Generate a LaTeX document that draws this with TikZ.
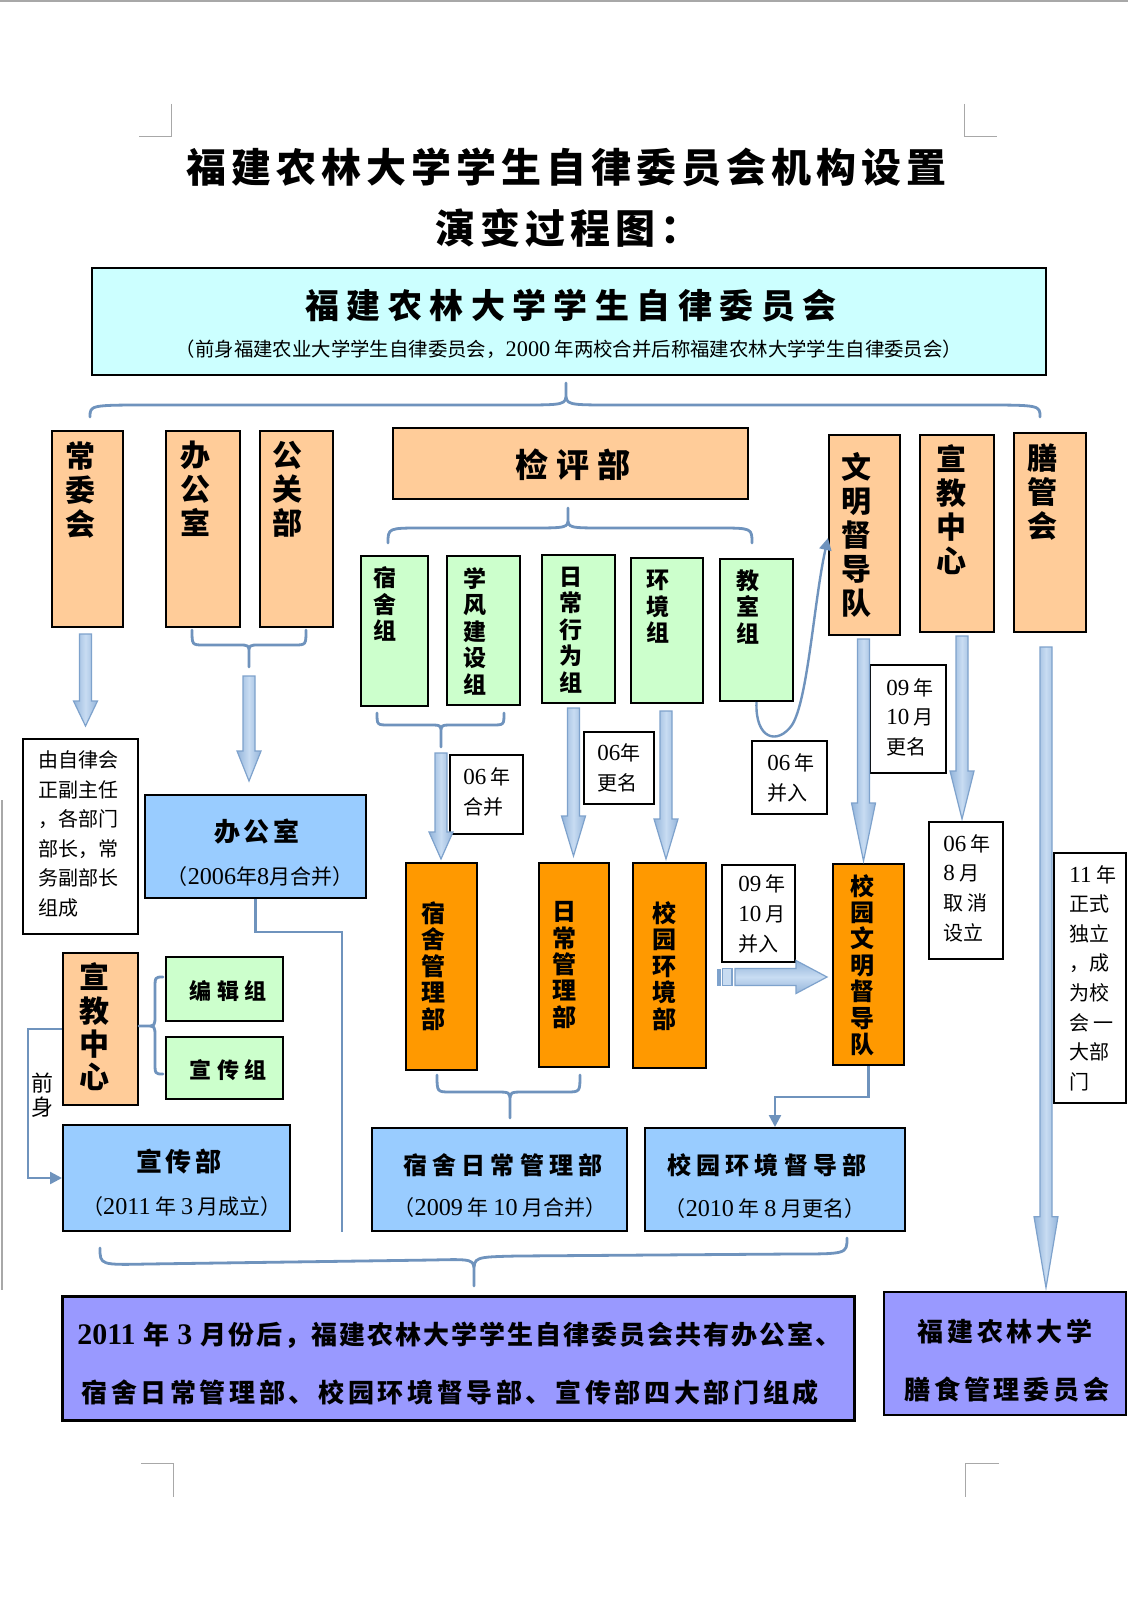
\documentclass[tikz,border=0pt]{standalone}
\usepackage{fontspec}
\newfontfamily\cjk{Noto Sans CJK SC}
\newfontfamily\lat{Liberation Serif}[Scale=1.15]
\usetikzlibrary{fit,calc,arrows.meta}
\definecolor{brc}{HTML}{6F93BD}
\definecolor{aedge}{HTML}{7EA2CC}
\definecolor{alight}{HTML}{C8DCF2}
\definecolor{adark}{HTML}{93B4DA}
\definecolor{pch}{HTML}{FFCC99}
\definecolor{org}{HTML}{FF9900}
\definecolor{grn}{HTML}{CCFFCC}
\definecolor{blu}{HTML}{99CCFF}
\definecolor{pur}{HTML}{9999FF}
\definecolor{cyn}{HTML}{CCFFFF}
\definecolor{crop}{HTML}{A8A8A8}
\newcommand\darrow[3][25]{\draw[barrow] let \p1=#2, \p2=#3 in
 (\x1-3pt,\y1) -- (\x1-3pt,\y2+#1*0.5pt) -- (\x1-6pt,\y2+#1*0.5pt) -- (\x1,\y2)
 -- (\x1+6pt,\y2+#1*0.5pt) -- (\x1+3pt,\y2+#1*0.5pt) -- (\x1+3pt,\y1) -- cycle;}
\newcommand\hbr[9]{\draw[brc] (#1,#4) .. controls (#1,#5) .. (#1+#7,#5) -- (#3-#8,#5)
 .. controls (#3,#5) .. (#3,{#5+(#9)}) -- (#3,#6)
 (#2,#4) .. controls (#2,#5) .. (#2-#7,#5) -- (#3+#8,#5) .. controls (#3,#5) .. (#3,{#5+(#9)});}
\begin{document}
\begin{tikzpicture}[x=0.5pt,y=-0.5pt,
 box/.style={draw=black, line width=1pt, inner sep=0pt},
 brc/.style={draw=brc, line width=1.4pt, line cap=round, line join=round},
 conn/.style={draw=brc, line width=1.2pt},
 barrow/.style={draw=aedge, line width=0.6pt, left color=adark, right color=adark, middle color=alight},
 colt/.style={inner sep=0pt, align=center, font=\cjk\bfseries\fontsize{15}{17}\selectfont},
 grnt/.style={inner sep=0pt, align=center, font=\cjk\bfseries\fontsize{11.5}{13.25}\selectfont},
 orgt/.style={inner sep=0pt, align=center, font=\cjk\bfseries\fontsize{12}{13.2}\selectfont},
 notet/.style={inner sep=0pt, align=left, anchor=west, font=\cjk\fontsize{10}{14.8}\selectfont},
 hdt/.style={inner sep=0pt, font=\cjk\bfseries\fontsize{13}{13}\selectfont\addfontfeature{LetterSpace=15}},
 hdtb/.style={inner sep=0pt, font=\cjk\bfseries\fontsize{12}{12}\selectfont\addfontfeature{LetterSpace=21}},
 subt/.style={inner sep=0pt, font=\cjk\fontsize{10.5}{12}\selectfont},
 gst/.style={inner sep=0pt, font=\cjk\bfseries\fontsize{11}{11}\selectfont\addfontfeature{LetterSpace=25}}]
\useasboundingbox (0,0) rectangle (1146,1600);
\fill[white] (0,0) rectangle (1146,1600);
% page marks
\draw[crop, line width=0.6pt] (0,1) -- (1128,1) (2,800) -- (2,1290);
\draw[crop, line width=0.5pt] (171,104) -- (171,137) -- (139,137)
 (964,104) -- (964,137) -- (997,137)
 (141,1463) -- (173,1463) -- (173,1497)
 (999,1463) -- (965,1463) -- (965,1497);
% titles
\node[inner sep=0pt, font=\cjk\bfseries\fontsize{20}{24}\selectfont\addfontfeature{LetterSpace=12.5}] (title1) at (566,167) {福建农林大学学生自律委员会机构设置};
\node[inner sep=0pt, anchor=west, font=\cjk\bfseries\fontsize{20}{24}\selectfont\addfontfeature{LetterSpace=12.5}] (title2) at (435,228) {演变过程图：};
% top box
\node[box, line width=1.2pt, fill=cyn, fit={(92,268) (1046,375)}] (top) {};
\node[inner sep=0pt, font=\cjk\bfseries\fontsize{17}{20}\selectfont\addfontfeature{LetterSpace=22}] (top-t1) at (571,306) {福建农林大学学生自律委员会};
\node[inner sep=0pt, font=\cjk\fontsize{9.7}{12}\selectfont] (top-t2) at (569,349) {（前身福建农业大学学生自律委员会，{\lat 2000} 年两校合并后称福建农林大学学生自律委员会）};
% braces
\hbr{90}{1040}{566}{417}{405}{383}{63}{50}{-12}
\hbr{388}{752}{568}{543}{528}{508}{35}{40}{-10}
\hbr{192}{306}{249}{630}{645}{667}{12}{11}{8}
\hbr{377}{504}{441}{713}{725}{747}{12}{12}{8}
\hbr{437}{580}{510}{1075}{1092}{1118}{14}{14}{10}
\coordinate (bt2) at (249,667);
\coordinate (bt3) at (441,747);
% first row
\node[box, fill=pch, fit={(52,431) (123,627)}] (cwh) {};
\node[box, fill=pch, fit={(166,431) (240,627)}] (bgs) {};
\node[box, fill=pch, fit={(260,431) (333,627)}] (ggb) {};
\node[box, fill=pch, fit={(393,428) (748,499)}] (jpb) {};
\node[box, fill=pch, fit={(829,435) (900,635)}] (wmd) {};
\node[box, fill=pch, fit={(920,435) (994,632)}] (xjzx) {};
\node[box, fill=pch, fit={(1014,433) (1086,632)}] (sgh) {};
\node[colt] (cwh-t) at (80,490) {常\\委\\会};
\node[colt] (bgs-t) at (195,489) {办\\公\\室};
\node[colt] (ggb-t) at (287,489) {公\\关\\部};
\node[inner sep=0pt, font=\cjk\bfseries\fontsize{16.5}{18}\selectfont\addfontfeature{LetterSpace=24}] (jpb-t) at (573,465) {检评部};
\node[colt] (wmd-t) at (856,535) {文\\明\\督\\导\\队};
\node[colt] (xjzx-t) at (951,510) {宣\\教\\中\\心};
\node[colt] (sgh-t) at (1042,492) {膳\\管\\会};
% green groups
\node[box, fill=grn, fit={(361,556) (428,706)}] (ssz) {};
\node[box, fill=grn, fit={(447,556) (520,705)}] (xfz) {};
\node[box, fill=grn, fit={(542,555) (615,703)}] (rcz) {};
\node[box, fill=grn, fit={(631,558) (703,703)}] (hjz) {};
\node[box, fill=grn, fit={(720,559) (793,701)}] (jsz) {};
\node[grnt] (ssz-t) at (385,604) {宿\\舍\\组};
\node[grnt] (xfz-t) at (475,631) {学\\风\\建\\设\\组};
\node[grnt] (rcz-t) at (571,630) {日\\常\\行\\为\\组};
\node[grnt] (hjz-t) at (658,607) {环\\境\\组};
\node[grnt] (jsz-t) at (748,607) {教\\室\\组};
% notes
\node[box, fill=white, fit={(23,739) (138,934)}] (n1) {};
\node[box, fill=white, fit={(450,755) (523,834)}] (n2) {};
\node[box, fill=white, fit={(584,732) (654,804)}] (n3) {};
\node[box, fill=white, fit={(752,741) (827,814)}] (n4) {};
\node[box, fill=white, fit={(870,665) (946,773)}] (n5) {};
\node[box, fill=white, fit={(929,822) (1003,959)}] (n6) {};
\node[box, fill=white, fit={(722,865) (795,962)}] (n7) {};
\node[box, fill=white, fit={(1054,853) (1126,1103)}] (n8) {};
\node[notet] (n1-t) at (38,834) {由自律会\\正副主任\\，各部门\\部长，常\\务副部长\\组成};
\node[notet] (n2-t) at (463,792) {{\lat 06} 年\\合并};
\node[notet] (n3-t) at (597,768) {{\lat 06}年\\更名};
\node[notet] (n4-t) at (767,778) {{\lat 06} 年\\并入};
\node[notet] (n5-t) at (886,717) {{\lat 09} 年\\{\lat 10} 月\\更名};
\node[notet] (n6-t) at (943,888) {{\lat 06} 年\\{\lat 8} 月\\取 消\\设立};
\node[notet] (n7-t) at (738,914) {{\lat 09} 年\\{\lat 10} 月\\并入};
\node[notet] (n8-t) at (1069,978) {{\lat 11} 年\\正式\\独立\\，成\\为校\\会 一\\大部\\门};
% second level
\node[box, fill=blu, fit={(145,795) (366,898)}] (bgs2) {};
\node[hdt] (bgs2-t1) at (257,832) {办公室};
\node[subt] (bgs2-t2) at (260,877) {（{\lat 2006}年{\lat 8}月合并）};
\node[box, fill=pch, fit={(63,953) (138,1105)}] (xjzx2) {};
\node[inner sep=0pt, align=center, font=\cjk\bfseries\fontsize{15}{16.65}\selectfont] (xjzx2-t) at (94,1027) {宣\\教\\中\\心};
\node[box, fill=grn, fit={(166,957) (283,1021)}] (bjz) {};
\node[box, fill=grn, fit={(166,1037) (283,1099)}] (xcz) {};
\node[gst] (bjz-t) at (228,991) {编辑组};
\node[gst] (xcz-t) at (228,1070) {宣传组};
\node[inner sep=0pt, align=center, font=\cjk\fontsize{11}{12}\selectfont] (qs-t) at (43,1095) {前\\身};
\node[box, fill=blu, fit={(63,1125) (290,1231)}] (xcb) {};
\node[hdt] (xcb-t1) at (179,1162) {宣传部};
\node[subt] (xcb-t2) at (182,1207) {（{\lat 2011} 年 {\lat 3} 月成立）};
\node[box, fill=org, fit={(406,863) (477,1070)}] (ssb) {};
\node[box, fill=org, fit={(539,863) (609,1067)}] (rcb) {};
\node[box, fill=org, fit={(633,863) (706,1068)}] (xhb) {};
\node[box, fill=org, fit={(833,864) (904,1065)}] (xywm) {};
\node[orgt] (ssb-t) at (433,966) {宿\\舍\\管\\理\\部};
\node[orgt] (rcb-t) at (564,965) {日\\常\\管\\理\\部};
\node[orgt] (xhb-t) at (664,966) {校\\园\\环\\境\\部};
\node[orgt] (xywm-t) at (862,965) {校\\园\\文\\明\\督\\导\\队};
\node[box, fill=blu, fit={(372,1128) (627,1231)}] (sgr) {};
\node[hdtb] (sgr-t1) at (503,1165) {宿舍日常管理部};
\node[subt] (sgr-t2) at (500,1208) {（{\lat 2009} 年 {\lat 10} 月合并）};
\node[box, fill=blu, fit={(645,1128) (905,1231)}] (xyhj) {};
\node[hdtb] (xyhj-t1) at (767,1165) {校园环境督导部};
\node[subt] (xyhj-t2) at (765,1209) {（{\lat 2010} 年 {\lat 8} 月更名）};
% bottom
\node[box, line width=1.5pt, fill=pur, fit={(62,1296) (854,1420)}] (sum) {};
\node[inner sep=0pt, anchor=west, font=\cjk\bfseries\fontsize{13}{13}\selectfont\addfontfeature{LetterSpace=7.5}] (sum-t1) at (77,1335) {{\lat 2011} 年 {\lat 3} 月份后，福建农林大学学生自律委员会共有办公室、};
\node[inner sep=0pt, anchor=west, font=\cjk\bfseries\fontsize{13}{13}\selectfont\addfontfeature{LetterSpace=14}] (sum-t2) at (81,1393) {宿舍日常管理部、校园环境督导部、宣传部四大部门组成};
\node[box, line width=1.3pt, fill=pur, fit={(884,1292) (1126,1415)}] (sgw) {};
\node[hdt] (sgw-t1) at (1005,1331) {福建农林大学};
\node[hdt] (sgw-t2) at (1007,1390) {膳食管理委员会};
% side brace of 宣教中心
\draw[brc] (163,977) .. controls (155,977) .. (155,989) -- (155,1015) .. controls (155,1026) .. (146,1026) -- (xjzx2.east |- 0,1026)
 (146,1026) .. controls (155,1026) .. (155,1037) -- (155,1062) .. controls (155,1074) .. (163,1074);
% bottom brace
\draw[brc] (100,1248) .. controls (100,1265) .. (148,1264) -- (432,1260) .. controls (474,1259) .. (474,1272) -- (474,1286)
 (474,1272) .. controls (474,1257) .. (517,1256) -- (792,1254) .. controls (847,1254) .. (847,1238);
% block arrows
\darrow[25]{($(cwh.south)+(-2,6)$)}{($(n1.north)+(0,-12)$)}
\darrow[30]{($(bt2)+(0,9)$)}{($(bgs2.north)+(0,-13)$)}
\darrow[27]{($(bt3)+(0,6)$)}{($(ssb.north)+(0,-3)$)}
\darrow[40]{($(rcz.south)+(-5,4)$)}{($(rcb.north)+(0,-6)$)}
\darrow[40]{($(hjz.south)+(-1,7)$)}{($(xhb.north)+(0,-3)$)}
\darrow[58]{($(wmd.south)+(-1,3)$)}{($(xywm.north)+(0,-2)$)}
\darrow[48]{($(xjzx.south)+(5,3)$)}{($(n6.north)+(0,-2)$)}
\darrow[71]{($(sgh.south)+(-4,14)$)}{($(sgw.north)+(0,-3)$)}
% striped arrow
\coordinate (ha1) at (717,977);
\coordinate (ha2) at ($(xywm.west)+(-5,12.5)$);
\draw[draw=aedge, line width=0.6pt, top color=adark, bottom color=adark, middle color=alight] let \p1=(ha1), \p2=(ha2) in
 (\x1+9pt,\y1+4.25pt) -- (\x2-15.5pt,\y1+4.25pt) -- (\x2-15.5pt,\y1+8.25pt) -- (\x2,\y1)
 -- (\x2-15.5pt,\y1-8.25pt) -- (\x2-15.5pt,\y1-4.25pt) -- (\x1+9pt,\y1-4.25pt) -- cycle;
\fill[aedge] ($(ha1)+(0,-8.5)$) rectangle ($(ha1)+(4,8.5)$);
\draw[draw=aedge, line width=0.6pt, fill=alight] ($(ha1)+(5.5,-8.5)$) rectangle ($(ha1)+(15,8.5)$);
% thin connectors
\coordinate (bgsend) at (342,1232);
\draw[conn] (bgs2.south) -- ++(0,33) -| (bgsend);
\coordinate (qsc) at (28,1029);
\draw[conn, -{Triangle[length=6pt,width=6pt]}] (xjzx2.west) -- (qsc) |- (xcb.west);
\draw[conn, -{Triangle[length=6pt,width=6pt]}] (xywm.south) -- ++(0,31) -| (xyhj.north);
\draw[conn, -{Triangle[length=6pt,width=6pt]}] (jsz.south) .. controls (755,740) and (778,745) .. (792,725) .. controls (808,700) and (814,600) .. ($(wmd.west)+(0,3)$);
\end{tikzpicture}
\end{document}
